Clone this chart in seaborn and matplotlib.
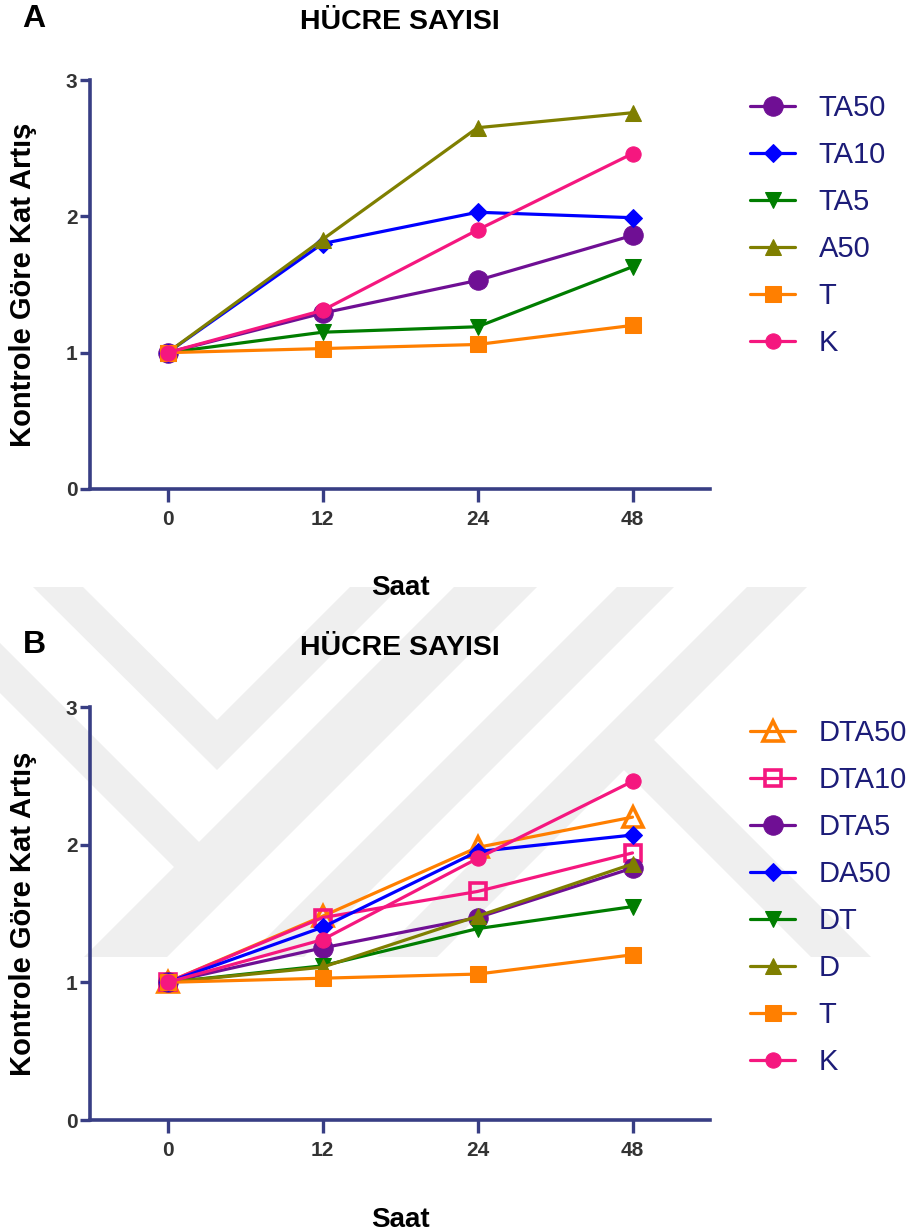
import numpy as np
import pandas as pd
import seaborn as sns
import matplotlib.pyplot as plt
from matplotlib.patches import Polygon, Rectangle

sns.set_theme(style="white")
plt.rcParams['font.family'] = ['Liberation Sans', 'DejaVu Sans']

# --- data -------------------------------------------------------------
hours = ["0", "12", "24", "48"]

# panel A
a_names = ["TA50", "TA10", "TA5", "A50", "T", "K"]
a_values = [
    [1.00, 1.29, 1.53, 1.86],
    [1.00, 1.80, 2.03, 1.99],
    [1.00, 1.15, 1.19, 1.63],
    [1.00, 1.83, 2.65, 2.76],
    [1.00, 1.03, 1.06, 1.20],
    [1.00, 1.31, 1.90, 2.46],
]

# panel B
b_names = ["DTA50", "DTA10", "DTA5", "DA50", "DT", "D", "T", "K"]
b_values = [
    [1.00, 1.48, 1.98, 2.20],
    [1.00, 1.47, 1.66, 1.94],
    [1.00, 1.25, 1.47, 1.83],
    [1.00, 1.40, 1.95, 2.07],
    [1.00, 1.12, 1.39, 1.55],
    [1.00, 1.11, 1.48, 1.86],
    [1.00, 1.03, 1.06, 1.20],
    [1.00, 1.31, 1.90, 2.46],
]

# --- styles -----------------------------------------------------------
purple, blue, green = "#6f0f94", "#0000ff", "#007d00"
olive, orange, pink = "#7f7f00", "#ff7f00", "#f5177f"

a_styles = [
    dict(color=purple, marker="o", ms=14),
    dict(color=blue, marker="D", ms=9),
    dict(color=green, marker="v", ms=12),
    dict(color=olive, marker="^", ms=12),
    dict(color=orange, marker="s", ms=11),
    dict(color=pink, marker="o", ms=11),
]
b_styles = [
    dict(color=orange, marker="^", ms=14, mfc="none", mew=2.6),
    dict(color=pink, marker="s", ms=12, mfc="none", mew=2.6),
    dict(color=purple, marker="o", ms=14),
    dict(color=blue, marker="D", ms=9),
    dict(color=green, marker="v", ms=12),
    dict(color=olive, marker="^", ms=12),
    dict(color=orange, marker="s", ms=11),
    dict(color=pink, marker="o", ms=11),
]

W, H = 909, 1232
navy = "#383e84"
legend_text = "#1c1c78"

fig = plt.figure(figsize=(W / 100, H / 100), dpi=100)
fig.patch.set_facecolor("white")


def fx(x):
    return x / W


def fy(y):
    return 1 - y / H


# faint diagonal watermark (thesis stamp) between the panels
wm_clip = Rectangle((0, fy(957)), 1, fy(587) - fy(957), transform=fig.transFigure)
bands = [
    [(33, 587), (83, 587), (217, 720), (350, 587), (400, 587), (217, 770)],
    [(0, 643), (0, 693), (190, 883), (215, 858)],
    [(454, 587), (537, 587), (167, 957), (84, 957)],
    [(617, 587), (674, 587), (304, 957), (247, 957)],
    [(747, 587), (807, 587), (437, 957), (377, 957)],
    [(594, 740), (654, 740), (871, 957), (811, 957)],
]
for b in bands:
    p = Polygon([(fx(x), fy(y)) for x, y in b], closed=True,
                transform=fig.transFigure, facecolor="#efefef",
                edgecolor="none", zorder=-5)
    fig.add_artist(p)
    p.set_clip_path(wm_clip)

ax_a = fig.add_axes([fx(90), fy(489), fx(710) - fx(90), fy(80) - fy(489)])
ax_b = fig.add_axes([fx(90), fy(1120), fx(710) - fx(90), fy(707) - fy(1120)])


def draw_panel(ax, names, values, styles, letter, leg_top):
    ax.set_facecolor("none")
    for name, vals, st in zip(names, values, styles):
        df = pd.DataFrame({"Saat": hours, "val": vals})
        sns.lineplot(data=df, x="Saat", y="val", ax=ax, label=name,
                     linewidth=2.3, sort=False, mec=st["color"], **st)
    ax.set_xlim(-0.5, 3.5)
    ax.set_ylim(0, 3)
    ax.set_yticks([0, 1, 2, 3])
    for side in ["top", "right"]:
        ax.spines[side].set_visible(False)
    for side in ["left", "bottom"]:
        ax.spines[side].set_color(navy)
        ax.spines[side].set_linewidth(2.6)
    ax.tick_params(axis="x", length=9, width=2.4, color=navy, pad=6,
                   labelsize=15, labelcolor="#333333", bottom=True)
    ax.tick_params(axis="y", length=7, width=2.4, color=navy, pad=2,
                   labelsize=15, labelcolor="#333333", left=True)
    for t in ax.get_xticklabels() + ax.get_yticklabels():
        t.set_fontweight("bold")
    ax.set_xlabel("Saat", fontsize=20, fontweight="bold", color="black")
    ax.xaxis.set_label_coords(0.5, -86 / 409)
    ax.set_ylabel("Kontrole Göre Kat Artış", fontsize=21, fontweight="bold",
                  color="black")
    ax.yaxis.set_label_coords(-53 / 620, 0.5)
    ax.text(0.5, 1 + 58 / 409, "HÜCRE SAYISI", transform=ax.transAxes,
            ha="center", va="center", fontsize=20.5, fontweight="bold",
            color="black")
    ax.text(-56 / 620, 1 + 61 / 409, letter, transform=ax.transAxes,
            ha="center", va="center", fontsize=23, fontweight="bold",
            color="black")
    leg = ax.legend(loc="upper left", bbox_to_anchor=(fx(750), fy(leg_top)),
                    bbox_transform=fig.transFigure, frameon=False,
                    fontsize=21, handlelength=1.55, handletextpad=0.8,
                    labelspacing=0.65, borderaxespad=0, borderpad=0)
    for t in leg.get_texts():
        t.set_color(legend_text)


draw_panel(ax_a, a_names, a_values, a_styles, "A", 94)
draw_panel(ax_b, b_names, b_values, b_styles, "B", 719)

fig.savefig("out.png", dpi=100)
